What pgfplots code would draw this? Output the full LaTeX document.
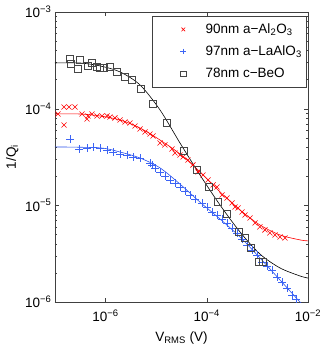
\documentclass[border=0pt]{standalone}
\usepackage{fontspec}
\setmainfont{Liberation Sans}
\usepackage{pgfplots}
\pgfplotsset{compat=1.18}
\definecolor{mred}{RGB}{255,0,0}
\definecolor{mblue}{RGB}{60,100,245}
\definecolor{mbluel}{RGB}{40,80,235}
\definecolor{mgray}{RGB}{70,70,70}
\newcommand{\lfont}{\fontsize{13.5}{15}\selectfont}
\begin{document}
\begin{tikzpicture}
\begin{axis}[
    scale only axis,
    width=253pt, height=290pt,
    xmode=log, ymode=log,
    xmin=1e-7, xmax=1e-2, ymin=1e-6, ymax=1e-3,
    xtick={1e-6,1e-4,1e-2},
    xticklabels={10\textsuperscript{−6},10\textsuperscript{−4},10\textsuperscript{−2}},
    ytick={1e-6,1e-5,1e-4,1e-3},
    yticklabels={10\textsuperscript{−6},10\textsuperscript{−5},10\textsuperscript{−4},10\textsuperscript{−3}},
    xminorticks=false,
    tick align=inside,
    major tick length=4pt, minor tick length=2pt,
    axis line style={black!75},
    tick style={black!75},
    tick label style={font=\lfont},
    xticklabel style={yshift=-4pt},
    label style={font=\lfont},
    xlabel style={yshift=-3pt},
    xlabel={V\textsubscript{RMS} (V)},
    ylabel={1/Q\textsubscript{i}},
    legend style={at={(0.992,0.986)}, anchor=north east, draw=black!75,
        font=\lfont, row sep=7pt, inner xsep=2pt, inner ysep=5.5pt},
    legend cell align=left,
    legend image code/.code={\draw[#1] plot coordinates {(0pt,0pt)}; \path (-29pt,0pt) (20pt,0pt);},
]
\addlegendimage{only marks, mark=x, mark size=2.6pt, line width=0.6pt, draw=mred}
\addlegendentry{90nm a−Al\textsubscript{2}O\textsubscript{3}}
\addlegendimage{only marks, mark=+, mark size=2.8pt, line width=0.6pt, draw=mblue}
\addlegendentry{97nm a−LaAlO\textsubscript{3}}
\addlegendimage{only marks, mark=square, mark size=2.6pt, line width=0.6pt, draw=mgray}
\addlegendentry{78nm c−BeO}
% fitted curves
\addplot[mred, line width=0.6pt, smooth, forget plot] coordinates {
 (1e-7,8.81e-5) (3.12e-7,8.81e-5) (7.75e-7,8.41e-5) (1.93e-6,7.64e-5) (4.79e-6,6.31e-5)
 (1.19e-5,4.74e-5) (2.95e-5,3.40e-5) (7.34e-5,2.22e-5) (1.82e-4,1.38e-5) (4.53e-4,8.96e-6)
 (1.12e-3,6.27e-6) (2.80e-3,4.94e-6) (6.95e-3,4.39e-6) (1e-2,4.29e-6)
};
\addplot[mbluel, line width=0.6pt, smooth, forget plot] coordinates {
 (1e-7,4.02e-5) (7.75e-7,3.93e-5) (1.93e-6,3.56e-5) (4.79e-6,3.09e-5) (1.19e-5,2.44e-5)
 (2.95e-5,1.66e-5) (7.34e-5,1.08e-5) (1.82e-4,7.23e-6) (4.53e-4,4.71e-6) (1.12e-3,2.86e-6)
 (2.80e-3,1.69e-6) (6.95e-3,1.00e-6) (1e-2,8.28e-7)
};
\addplot[black, line width=0.6pt, smooth, forget plot] coordinates {
 (1e-7,2.97e-4) (3.12e-7,2.97e-4) (7.75e-7,2.77e-4) (1.93e-6,2.40e-4) (4.79e-6,1.76e-4)
 (1.19e-5,9.70e-5) (2.95e-5,4.42e-5) (7.34e-5,2.06e-5) (1.82e-4,1.01e-5) (4.53e-4,5.31e-6)
 (1.12e-3,3.14e-6) (2.80e-3,2.25e-6) (6.95e-3,1.86e-6) (1e-2,1.77e-6)
};
% measured data
\addplot[mred, only marks, mark=x, mark size=3.6pt, line width=0.55pt, forget plot] coordinates {
 (1.15e-7,8.81e-5) (1.51e-7,1.04e-4) (1.51e-7,6.78e-5) (1.89e-7,1.04e-4) (2.48e-7,1.04e-4)
 (3.42e-7,8.81e-5) (4.29e-7,7.82e-5) (4.49e-7,8.41e-5) (5.38e-7,8.81e-5) (6.76e-7,8.41e-5)
 (8.49e-7,8.41e-5) (1.07e-6,8.41e-5) (1.22e-6,8.20e-5) (1.53e-6,8.02e-5) (1.93e-6,7.64e-5)
 (2.42e-6,7.28e-5) (3.03e-6,7.11e-5) (3.81e-6,6.62e-5) (4.79e-6,6.17e-5) (6.01e-6,5.74e-5)
 (7.54e-6,5.47e-5) (8.65e-6,5.22e-5) (1.19e-5,4.42e-5) (1.49e-5,4.22e-5) (2.05e-5,3.83e-5)
 (2.35e-5,3.48e-5) (2.95e-5,3.32e-5) (3.39e-5,3.17e-5) (4.25e-5,2.94e-5) (5.33e-5,2.62e-5)
 (6.70e-5,2.22e-5) (8.41e-5,2.06e-5) (1.06e-4,1.83e-5) (1.33e-4,1.63e-5) (1.59e-4,1.55e-5)
 (2.00e-4,1.28e-5) (2.51e-4,1.19e-5) (3.15e-4,1.06e-5) (3.61e-4,9.62e-6) (4.14e-4,9.40e-6)
 (4.96e-4,8.55e-6) (5.69e-4,7.96e-6) (7.14e-4,7.41e-6) (8.97e-4,6.58e-6) (1.12e-3,5.98e-6)
 (1.41e-3,5.57e-6) (1.77e-3,5.19e-6) (2.23e-3,4.94e-6) (2.80e-3,4.71e-6) (3.51e-3,4.60e-6)
};
\addplot[mblue, only marks, mark=+, mark size=3.8pt, line width=0.55pt, forget plot] coordinates {
 (1.98e-7,4.86e-5) (2.98e-7,3.83e-5) (4.29e-7,3.93e-5) (5.64e-7,4.02e-5) (7.75e-7,3.93e-5)
 (1.07e-6,3.74e-5) (1.40e-6,3.56e-5) (1.93e-6,3.40e-5) (2.65e-6,3.32e-5) (3.48e-6,3.17e-5)
 (4.79e-6,3.09e-5) (7.54e-6,2.74e-5) (8.26e-6,2.62e-5) (9.47e-6,2.44e-5) (1.19e-5,2.22e-5)
 (1.49e-5,2.01e-5) (1.87e-5,1.83e-5) (2.35e-5,1.71e-5) (2.95e-5,1.55e-5) (3.71e-5,1.41e-5)
 (4.66e-5,1.28e-5) (5.85e-5,1.16e-5) (8.04e-5,1.06e-5) (1.01e-4,9.62e-6) (1.27e-4,8.55e-6)
 (1.59e-4,7.96e-6) (2.00e-4,7.23e-6) (2.51e-4,6.58e-6) (3.15e-4,5.83e-6) (3.95e-4,5.19e-6)
 (4.96e-4,4.50e-6) (6.22e-4,3.89e-6) (7.82e-4,3.46e-6) (9.82e-4,3.07e-6) (1.23e-3,2.60e-6)
 (1.55e-3,2.36e-6) (1.94e-3,2.15e-6) (2.44e-3,1.82e-6) (3.06e-3,1.61e-6) (3.85e-3,1.40e-6)
 (4.83e-3,1.18e-6) (5.79e-3,1.08e-6)
};
\addplot[mgray, only marks, mark=square, mark size=3.5pt, line width=0.6pt, forget plot] coordinates {
 (1.98e-7,3.27e-4) (2.07e-7,2.90e-4) (2.85e-7,2.57e-4) (3.12e-7,3.19e-4) (4.49e-7,2.77e-4)
 (5.38e-7,2.97e-4) (6.76e-7,2.70e-4) (7.75e-7,2.64e-4) (9.30e-7,2.64e-4) (1.22e-6,2.70e-4)
 (1.68e-6,2.40e-4) (2.42e-6,2.13e-4) (3.32e-6,1.98e-4) (5.01e-6,1.60e-4) (8.65e-6,1.12e-4)
 (1.64e-5,7.11e-5) (3.54e-5,3.66e-5) (6.40e-5,2.32e-5) (1.10e-4,1.55e-5) (1.66e-4,1.08e-5)
 (2.51e-4,8.15e-6) (4.33e-4,5.31e-6) (5.69e-4,4.60e-6) (7.48e-4,3.62e-6) (1.08e-3,2.60e-6)
 (1.29e-3,2.60e-6)
};
\coordinate (bl) at (rel axis cs:-0.2174,-0.1655);
\coordinate (tr) at (rel axis cs:1.0474,1.0414);
\end{axis}
\pgfresetboundingbox
\path (bl) rectangle (tr);
\end{tikzpicture}
\end{document}
